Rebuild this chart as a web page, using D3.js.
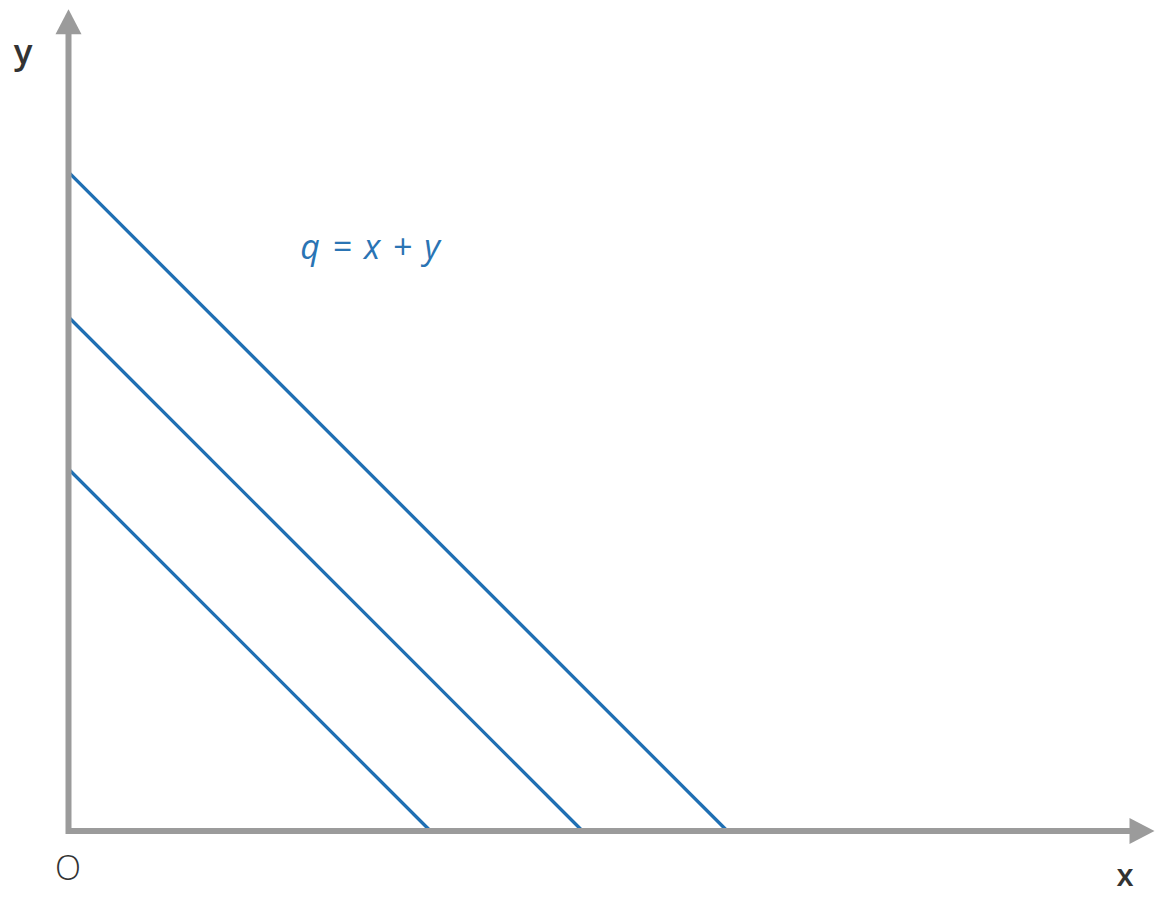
<!DOCTYPE html>
<html>
<head>
<meta charset="utf-8">
<script src="https://cdn.jsdelivr.net/npm/d3@7"></script>
<style>
  body { margin: 0; background: #fff; }
  svg { display: block; }
</style>
</head>
<body>
<script>
var width = 1155;
var height = 897;

// values of q for the three lines x + y = q
var qValues = [5, 7.1, 9.1];
var axisMax = { x: 15, y: 11.35 };
var labelText = "q = x + y";
var labelPos = [3.2, 7.9];

var svg = d3.select("body")
  .append("svg")
  .attr("width", width)
  .attr("height", height);

var x = d3.scaleLinear()
  .domain([0, axisMax.x])
  .range([68.5, 68.5 + axisMax.x * 72.4]);

var y = d3.scaleLinear()
  .domain([0, axisMax.y])
  .range([831, 831 - axisMax.y * 72.4]);

var axisColor = "#9b9b9b";
var lineColor = "#1f6fb3";
var head = 25, half = 13;

// iso lines
svg.selectAll("line.q")
  .data(qValues)
  .enter().append("line")
  .attr("class", "q")
  .attr("x1", x(0))
  .attr("y1", function(d) { return y(d); })
  .attr("x2", function(d) { return x(d); })
  .attr("y2", y(0))
  .attr("stroke", lineColor)
  .attr("stroke-width", 3.3);

// axes
svg.append("path")
  .attr("d", "M" + x(0) + "," + (y(axisMax.y) + head) +
    "V" + y(0) + "H" + (x(axisMax.x) - head))
  .attr("fill", "none")
  .attr("stroke", axisColor)
  .attr("stroke-width", 6)
  .attr("stroke-linecap", "square");

svg.append("path")
  .attr("d", "M" + x(0) + "," + y(axisMax.y) +
    "L" + (x(0) + half) + "," + (y(axisMax.y) + head) +
    "L" + (x(0) - half) + "," + (y(axisMax.y) + head) + "Z")
  .attr("fill", axisColor);

svg.append("path")
  .attr("d", "M" + x(axisMax.x) + "," + y(0) +
    "L" + (x(axisMax.x) - head) + "," + (y(0) - half) +
    "L" + (x(axisMax.x) - head) + "," + (y(0) + half) + "Z")
  .attr("fill", axisColor);

// axis labels
svg.append("text")
  .attr("x", 23).attr("y", 64)
  .attr("text-anchor", "middle")
  .style("font-family", "Open Sans, sans-serif")
  .style("font-weight", 600)
  .style("font-size", "35px")
  .style("fill", "#333")
  .text("y");

svg.append("text")
  .attr("x", 1125).attr("y", 886)
  .attr("text-anchor", "middle")
  .style("font-family", "Open Sans, sans-serif")
  .style("font-weight", 600)
  .style("font-size", "31px")
  .style("fill", "#333")
  .text("x");

svg.append("text")
  .attr("x", 68).attr("y", 880)
  .attr("text-anchor", "middle")
  .style("font-family", "Open Sans, sans-serif")
  .style("font-weight", 300)
  .style("font-size", "34px")
  .style("fill", "#333")
  .text("O");

svg.append("text")
  .attr("x", x(labelPos[0])).attr("y", y(labelPos[1]))
  .style("font-family", "Open Sans, sans-serif")
  .style("font-style", "italic")
  .style("font-size", "34px")
  .style("word-spacing", "3.5px")
  .style("fill", "#2a74b4")
  .text(labelText);
</script>
</body>
</html>
